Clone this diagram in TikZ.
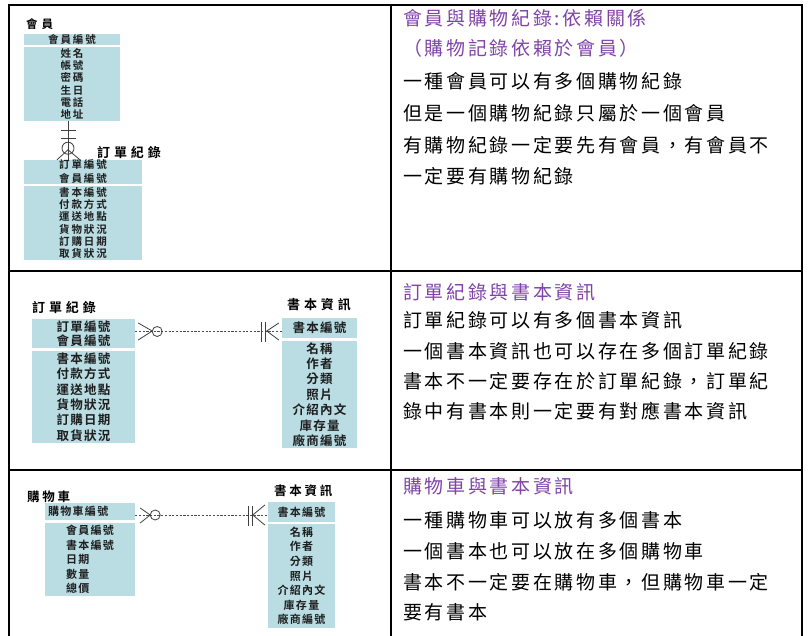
\documentclass[tikz,border=0pt]{standalone}
\usepackage{fontspec}
\newfontfamily\cjk{Noto Sans CJK TC}
\newfontfamily\cjkb{Noto Sans CJK TC}[UprightFont=* Bold]
\definecolor{boxfill}{RGB}{185,221,227}
\definecolor{purp}{RGB}{128,68,168}
\definecolor{boxtext}{RGB}{30,30,30}
\tikzset{
  frame/.style={line width=2.2pt, black, line cap=rect},
  ent/.style={fill=boxfill, draw=none, inner sep=0pt, align=center, text=boxtext},
  fa/.style={font=\cjkb\fontsize{10.5}{12.3}\selectfont\addfontfeature{LetterSpace=18}},
  fb/.style={font=\cjkb\fontsize{12.5}{15.4}\selectfont\addfontfeature{LetterSpace=10}},
  fc/.style={font=\cjkb\fontsize{11}{14.6}\selectfont\addfontfeature{LetterSpace=12}},
  ttl/.style={anchor=west, inner sep=0pt, text=black},
  ttla/.style={ttl, font=\cjkb\fontsize{11.5}{12}\selectfont\addfontfeature{LetterSpace=35}},
  ttlb/.style={ttl, font=\cjkb\fontsize{13}{13}\selectfont\addfontfeature{LetterSpace=30}},
  ttlc/.style={ttl, font=\cjkb\fontsize{12.5}{13}\selectfont\addfontfeature{LetterSpace=22}},
  rt/.style={anchor=west, inner sep=0pt, text=black, font=\cjk\fontsize{19}{19}\selectfont\addfontfeature{LetterSpace=14}},
  rtp/.style={rt, text=purp},
  conn/.style={line width=0.8pt, black!75},
  dconn/.style={line width=0.7pt, black!70, dash pattern=on 2.2pt off 1.5pt},
}
\begin{document}
\begin{tikzpicture}[x=1pt,y=-1pt]
\useasboundingbox (0,0) rectangle (809,635);
\fill[white] (0,0) rectangle (809,635);

% table frame
\draw[frame] (9,5) -- (802,5);
\draw[frame] (9,5) -- (9,637);
\draw[frame] (802,5) -- (802,637);
\draw[frame] (391,5) -- (391,637);
\draw[frame] (9,271) -- (802,271);
\draw[frame] (9,470) -- (802,470);

% ---------------- row 1 ----------------
\node[ttla] (memt) at (26,24) {會員};
\node[ent,fa,minimum width=96pt,minimum height=11pt] (memk) at (72,39.5) {會員編號};
\node[ent,fa,minimum width=96pt,minimum height=74pt] (mema) at (72,84) {姓名\\帳號\\密碼\\生日\\電話\\地址};
\node[ttlb] (ordt) at (97,153) {訂單紀錄};
\node[ent,fa,minimum width=118pt,minimum height=24pt] (ordk) at (83,172) {訂單編號\\[1.7pt]會員編號};
\node[ent,fa,minimum width=118pt,minimum height=74pt] (orda) at (83,223) {書本編號\\付款方式\\運送地點\\貨物狀況\\訂購日期\\取貨狀況};

\coordinate (x68) at (68,0);
\coordinate (p1) at (mema.south -| x68);
\coordinate (q1) at (ordk.north -| x68);
\draw[conn] (p1) -- (q1);
\draw[conn] ([shift={(-7,9)}]p1) -- ([shift={(8,9)}]p1);
\draw[conn] ([shift={(-7,17)}]p1) -- ([shift={(8,17)}]p1);
\draw[conn] ([shift={(0,27)}]p1) circle[radius=6pt];
\draw[conn] ([shift={(-11,0)}]q1) -- ([shift={(0,-10)}]q1) -- ([shift={(12,0)}]q1);

\node[rtp] (t11) at (403,18) {會員與購物紀錄:依賴關係};
\node[rtp] (t12) at (403,48) {（購物記錄依賴於會員）};
\node[rt] (t13) at (403,81) {一種會員可以有多個購物紀錄};
\node[rt] (t14) at (403,113) {但是一個購物紀錄只屬於一個會員};
\node[rt] (t15) at (403,145) {有購物紀錄一定要先有會員，有會員不};
\node[rt] (t16) at (403,176) {一定要有購物紀錄};

% ---------------- row 2 ----------------
\node[ttlb] (ordt2) at (32,308) {訂單紀錄};
\node[ent,fb,minimum width=103pt,minimum height=29pt] (ordk2) at (83.5,333.5) {訂單編號\\[-1.4pt]會員編號};
\node[ent,fb,minimum width=103pt,minimum height=92pt] (orda2) at (83.5,397) {書本編號\\付款方式\\運送地點\\貨物狀況\\訂購日期\\取貨狀況};
\node[ttlb] (bookt2) at (287,305) {書本資訊};
\node[ent,fb,minimum width=75pt,minimum height=20pt] (bookk2) at (319.5,328) {書本編號};
\node[ent,fb,minimum width=75pt,minimum height=107pt] (booka2) at (319.5,394.5) {名稱\\作者\\分類\\照片\\介紹內文\\庫存量\\廠商編號};

\coordinate (y331) at (0,331);
\coordinate (a2) at (ordk2.east |- y331);
\coordinate (b2) at (bookk2.west |- y331);
\draw[dconn] (a2) -- (b2);
\draw[conn] ([shift={(3,-8)}]a2) -- ([shift={(17,0)}]a2) -- ([shift={(3,9)}]a2);
\draw[conn] ([shift={(22,0.5)}]a2) circle[radius=5pt];
\draw[conn] ([shift={(-20,-9)}]b2) -- ([shift={(-20,11)}]b2);
\draw[conn] ([shift={(-16,-9)}]b2) -- ([shift={(-16,11)}]b2);
\draw[conn] ([shift={(-3,-8)}]b2) -- ([shift={(-15,0)}]b2) -- ([shift={(-3,9)}]b2);

\node[rtp] (t21) at (403,292) {訂單紀錄與書本資訊};
\node[rt] (t22) at (403,320) {訂單紀錄可以有多個書本資訊};
\node[rt] (t23) at (403,351) {一個書本資訊也可以存在多個訂單紀錄};
\node[rt] (t24) at (403,381) {書本不一定要存在於訂單紀錄，訂單紀};
\node[rt] (t25) at (403,411) {錄中有書本則一定要有對應書本資訊};

% ---------------- row 3 ----------------
\node[ttlc] (cartt) at (27,497) {購物車};
\node[ent,fc,align=left,text width=84pt,inner xsep=3pt,minimum height=17pt] (cartk) at (90,511.5) {購物車編號};
\node[ent,fc,align=left,text width=48pt,inner xsep=21pt,minimum height=73pt] (carta) at (90,559.5) {會員編號\\書本編號\\日期\\數量\\總價};
\node[ttlc] (bookt3) at (274,491) {書本資訊};
\node[ent,fc,minimum width=67pt,minimum height=20pt] (bookk3) at (301.5,512) {書本編號};
\node[ent,fc,minimum width=67pt,minimum height=104pt] (booka3) at (301.5,576) {名稱\\作者\\分類\\照片\\介紹內文\\庫存量\\廠商編號};

\coordinate (y515) at (0,515);
\coordinate (a3) at (cartk.east |- y515);
\coordinate (b3) at (bookk3.west |- y515);
\draw[dconn] (a3) -- (b3);
\draw[conn] ([shift={(5,-7)}]a3) -- ([shift={(15,0)}]a3) -- ([shift={(5,8)}]a3);
\draw[conn] ([shift={(20,0)}]a3) circle[radius=5pt];
\draw[conn] ([shift={(-19,-9)}]b3) -- ([shift={(-19,11)}]b3);
\draw[conn] ([shift={(-15,-9)}]b3) -- ([shift={(-15,11)}]b3);
\draw[conn] ([shift={(-3,-10)}]b3) -- ([shift={(-15,0)}]b3) -- ([shift={(-3,10)}]b3);

\node[rtp] (t31) at (403,486) {購物車與書本資訊};
\node[rt] (t32) at (403,520) {一種購物車可以放有多個書本};
\node[rt] (t33) at (403,551) {一個書本也可以放在多個購物車};
\node[rt] (t34) at (403,582) {書本不一定要在購物車，但購物車一定};
\node[rt] (t35) at (403,612) {要有書本};
\end{tikzpicture}
\end{document}
